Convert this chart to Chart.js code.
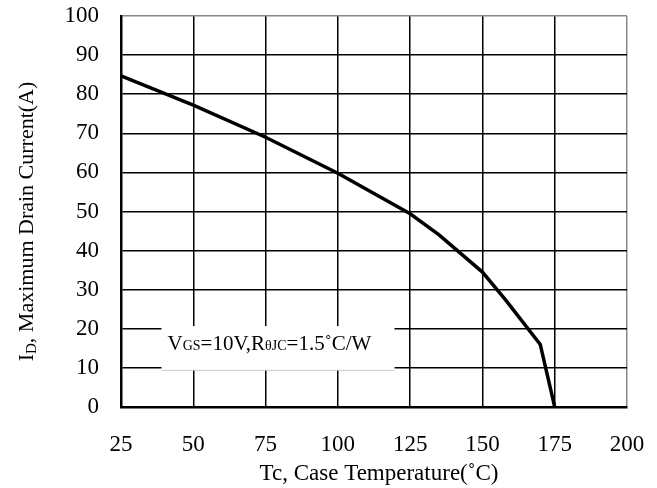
<!DOCTYPE html>
<html>
<head>
<meta charset="utf-8">
<script src="https://cdn.jsdelivr.net/npm/chart.js@4/dist/chart.umd.min.js"></script>
<style>
html,body{margin:0;padding:0;background:#fff;}
#wrap{width:657px;height:488px;}
</style>
</head>
<body>
<div id="wrap"><canvas id="c" width="657" height="488"></canvas></div>
<script>
// Data
const caseTemps = [25, 50, 75, 100, 125, 135, 150, 158, 170, 175];
const drainCurrents = [84.7, 77.2, 69, 59.8, 49.4, 44, 34.5, 27.4, 16, 0];
const xTickValues = [25, 50, 75, 100, 125, 150, 175, 200];
const yTickValues = [0, 10, 20, 30, 40, 50, 60, 70, 80, 90, 100];
const noteText = [
  {t: 'V', s: 21}, {t: 'GS', s: 14}, {t: '=10V,R', s: 21},
  {t: 'θJC', s: 14}, {t: '=1.5˚C/W', s: 21}
];
const noteBoxX = [39, 119.6];
const noteBoxY = [20.7, 9.5];
const xTitle = [{t: 'Tc, Case Temperature(˚C)', s: 23}];
const yTitle = [{t: 'I', s: 22}, {t: 'D', s: 15, dy: 3}, {t: ', Maximum Drain Current(A)', s: 22}];

const FONT = '"Liberation Serif", "DejaVu Serif", serif';

function runsWidth(ctx, runs) {
  let w = 0;
  for (const r of runs) { ctx.font = r.s + 'px ' + FONT; w += ctx.measureText(r.t).width; }
  return w;
}
function drawRuns(ctx, runs, x, y) {
  for (const r of runs) {
    ctx.font = r.s + 'px ' + FONT;
    ctx.fillText(r.t, x, y + (r.dy || 0));
    x += ctx.measureText(r.t).width;
  }
}

const extras = {
  id: 'extras',
  beforeDatasetsDraw(chart) {
    const {ctx, scales: {x, y}} = chart;
    const x0 = x.getPixelForValue(noteBoxX[0]), x1 = x.getPixelForValue(noteBoxX[1]);
    const y0 = y.getPixelForValue(noteBoxY[0]), y1 = y.getPixelForValue(noteBoxY[1]);
    ctx.save();
    ctx.fillStyle = '#fff';
    ctx.fillRect(x0, y0, x1 - x0, y1 - y0);
    ctx.strokeStyle = '#c8c8c8';
    ctx.lineWidth = 1;
    ctx.beginPath(); ctx.moveTo(x0, y1 + 0.5); ctx.lineTo(x1, y1 + 0.5); ctx.stroke();
    ctx.fillStyle = '#000';
    ctx.textBaseline = 'alphabetic';
    ctx.textAlign = 'left';
    drawRuns(ctx, noteText, x0 + 6, y0 + 24);
    ctx.restore();
  },
  afterDraw(chart) {
    const {ctx, chartArea: a} = chart;
    ctx.save();
    ctx.fillStyle = '#000';
    ctx.textBaseline = 'alphabetic';
    ctx.textAlign = 'left';
    const xw = runsWidth(ctx, xTitle);
    drawRuns(ctx, xTitle, (a.left + a.right) / 2 + 5 - xw / 2, 480);
    const yw = runsWidth(ctx, yTitle);
    ctx.translate(33, (a.top + a.bottom) / 2 + 10);
    ctx.rotate(-Math.PI / 2);
    drawRuns(ctx, yTitle, -yw / 2, 0);
    ctx.restore();
  }
};

new Chart(document.getElementById('c'), {
  type: 'line',
  data: {
    datasets: [{
      data: caseTemps.map((t, i) => ({x: t, y: drainCurrents[i]})),
      borderColor: '#000',
      borderWidth: 3.5,
      pointRadius: 0,
      tension: 0,
      fill: false
    }]
  },
  options: {
    responsive: false,
    animation: false,
    devicePixelRatio: 1,
    layout: {padding: {left: 0, top: 16, right: 30, bottom: 0}},
    plugins: {legend: {display: false}, tooltip: {enabled: false}},
    scales: {
      x: {
        type: 'linear', min: 25, max: 200,
        afterBuildTicks: s => { s.ticks = xTickValues.map(v => ({value: v})); },
        afterFit: s => { s.height = 81; s.paddingLeft = 0; s.paddingRight = 0; },
        grid: {
          color: c => (c.tick && c.tick.value === 200) ? '#888' : '#000',
          lineWidth: 1.5, drawTicks: false
        },
        border: {color: '#000', width: 2.5},
        ticks: {color: '#000', padding: 24, maxRotation: 0, font: {family: FONT, size: 23}}
      },
      y: {
        type: 'linear', min: 0, max: 100,
        afterBuildTicks: s => { s.ticks = yTickValues.map(v => ({value: v})); },
        afterFit: s => { s.width = 121; s.paddingTop = 0; s.paddingBottom = 0; },
        grid: {
          color: c => (c.tick && c.tick.value === 100) ? '#888' : '#000',
          lineWidth: 1.5, drawTicks: false
        },
        border: {color: '#000', width: 2.5},
        ticks: {color: '#000', padding: 22, font: {family: FONT, size: 23}}
      }
    }
  },
  plugins: [extras]
});
</script>
</body>
</html>
